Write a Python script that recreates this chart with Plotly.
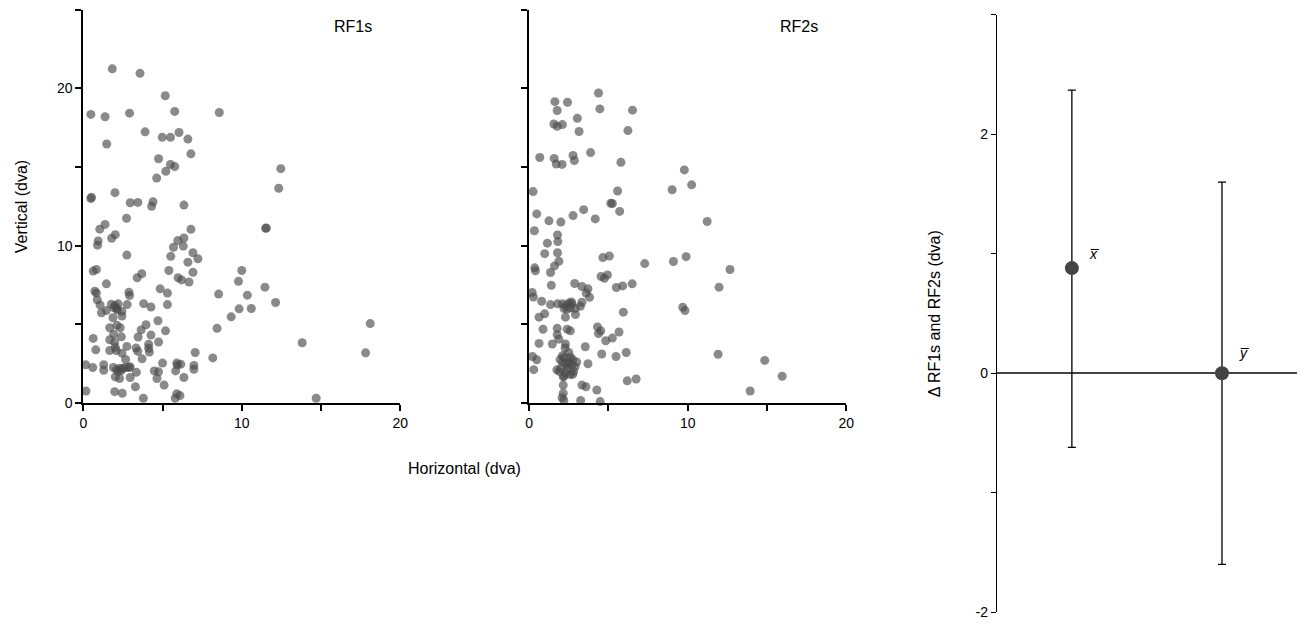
import plotly.graph_objects as go

# ---------------- data ----------------
rf1_x = [1.83, 3.58, 5.17, 0.48, 1.375, 2.92, 5.77, 8.58, 3.9, 4.98, 5.5, 6.04, 6.6, 1.48, 6.79, 4.75, 5.5, 5.77,
         5.21, 4.63, 0.48, 0.52, 2.0, 2.96, 3.44, 4.4, 4.31, 6.35, 2.73, 1.375, 1.04, 6.79, 2.02,
         1.79, 0.94, 0.9, 6.35, 5.96, 6.31, 5.69, 2.75, 5.52, 6.92, 7.23, 6.6, 0.625, 0.83, 5.4, 6.92, 3.69, 3.4,
         5.98, 6.2, 6.67, 1.46, 10.0, 9.79, 10.35, 8.54, 9.83, 10.6, 9.33, 8.44, 8.17, 4.85, 5.31, 5.31, 0.73,
         0.83, 0.88, 1.06, 2.88, 2.92, 2.77, 3.81, 4.27,
         2.0, 2.1, 2.2, 1.95, 2.15,
         1.77, 1.46, 1.15, 2.44, 2.44, 1.875, 4.71, 3.96, 3.65, 5.19, 1.67, 2.125, 2.33, 1.92, 2.4, 0.625, 1.67,
         4.27, 3.46, 4.75, 1.98, 2.02, 2.75, 3.33, 4.125, 4.125, 0.79, 1.67, 2.08, 3.44, 4.17, 2.44, 7.06, 2.67,
         3.71, 5.0, 5.9, 6.15, 5.94, 6.98, 6.98, 0.15, 0.6, 1.29, 1.29,
         1.9, 2.1, 2.3, 2.5, 2.7, 2.9, 2.2, 2.4,
         2.96, 3.35, 4.48, 4.75, 4.65, 5.83, 6.35, 2.02, 2.29, 2.96, 5.1, 3.29, 0.17, 1.98, 2.46, 3.79, 5.9, 6.1, 5.8,
         12.46, 12.33, 11.5, 11.55, 11.46, 12.13, 18.1, 13.81, 17.81, 14.69]
rf1_y = [21.25, 20.96, 19.54, 18.35, 18.2, 18.43, 18.54, 18.47, 17.24, 16.89, 16.89, 17.2, 16.78, 16.47, 15.84, 15.53, 15.17, 15.03,
         14.73, 14.3, 13.0, 13.08, 13.37, 12.73, 12.75, 12.79, 12.5, 12.58, 11.74, 11.35, 11.05, 11.04, 10.7,
         10.47, 10.3, 10.03, 10.49, 10.32, 9.97, 9.9, 9.4, 9.32, 9.55, 9.17, 8.95, 8.38, 8.48, 8.42, 8.3, 8.21, 7.96,
         7.96, 7.82, 7.69, 7.57, 8.42, 7.73, 6.85, 6.92, 5.98, 6.0, 5.47, 4.74, 2.86, 7.25, 6.98, 6.25, 7.1,
         6.98, 6.56, 6.23, 7.04, 6.83, 6.25, 6.31, 6.1,
         6.2, 6.0, 6.3, 6.05, 5.9,
         6.27, 5.87, 5.73, 5.83, 5.52, 5.41, 5.22, 4.97, 4.64, 4.58, 4.78, 4.93, 4.78, 4.37, 4.2, 4.1, 4.01,
         4.31, 4.19, 3.87, 3.85, 3.53, 3.59, 3.49, 3.73, 3.47, 3.37, 3.33, 3.33, 3.27, 3.23, 3.16, 3.2, 2.76,
         2.8, 2.53, 2.53, 2.46, 2.4, 2.38, 2.13, 2.42, 2.24, 2.42, 2.07,
         2.25, 2.1, 2.2, 2.2, 2.25, 2.25, 2.0, 2.05,
         2.29, 1.94, 2.03, 1.97, 1.55, 2.03, 1.61, 1.65, 1.55, 1.61, 1.13, 1.02, 0.75, 0.71, 0.61, 0.29, 0.57, 0.46, 0.29,
         14.9, 13.65, 11.1, 11.12, 7.36, 6.38, 5.04, 3.82, 3.18, 0.29]

rf2_x = [4.375, 1.625, 2.42, 1.77, 4.46, 6.52, 3.04, 1.56, 1.77, 2.1, 3.15, 6.23, 0.67, 1.58, 1.71, 2.08, 2.77, 2.85,
         3.875, 5.79, 9.79, 10.25, 9.02, 0.25, 5.58, 5.15, 5.25, 5.71, 3.44, 2.77, 4.17, 0.48, 1.25, 2.0, 0.33, 1.79,
         11.23, 12.67, 11.98, 11.92, 14.86, 15.96, 13.94,
         1.81, 1.15, 0.98, 1.79, 1.875, 1.6, 0.35, 0.4, 1.35, 1.4, 4.65, 5.06, 7.29, 9.1, 9.9, 4.54, 4.75, 4.94,
         5.5, 5.9, 6.5, 2.875, 3.33, 3.71, 3.6, 3.81, 0.19, 0.27, 0.79, 1.35, 1.79,
         2.1, 2.3, 2.5, 2.7, 2.2, 2.4, 2.6, 2.9,
         2.67, 3.33, 3.23, 2.92, 0.98, 0.625, 2.29, 5.94, 9.69, 9.83, 0.875, 1.77, 2.4, 2.6, 1.77, 1.875, 4.31,
         4.52, 4.375, 5.67, 5.25, 4.83, 0.625, 1.46, 2.29, 2.27, 3.54, 0.21, 0.48, 0.29, 4.58, 5.48, 6.125, 3.71,
         2.3, 2.1, 2.5, 2.0, 2.4, 2.7, 2.9, 2.2, 2.6, 1.9, 2.3, 2.6, 2.8, 2.1, 2.5, 2.75, 2.45, 2.2, 3.0, 1.95,
         1.75, 2.75, 2.15, 2.15, 2.15, 2.08, 2.19, 3.33, 3.58, 4.27, 6.19, 6.75, 3.25, 4.48]
rf2_y = [19.71, 19.16, 19.12, 18.6, 18.7, 18.62, 18.1, 17.74, 17.6, 17.7, 17.26, 17.32, 15.61, 15.55, 15.19, 15.17, 15.74, 15.42,
         15.92, 15.3, 14.82, 13.87, 13.56, 13.44, 13.48, 12.7, 12.68, 12.18, 12.29, 11.91, 11.7, 12.02, 11.58, 11.5, 10.95, 10.68,
         11.54, 8.48, 7.36, 3.09, 2.7, 1.69, 0.75,
         10.26, 10.16, 9.49, 9.55, 9.01, 8.71, 8.59, 8.4, 8.29, 7.48, 9.24, 9.34, 8.86, 8.99, 9.3, 8.04, 7.92, 8.14,
         7.34, 7.44, 7.57, 7.59, 7.4, 7.25, 6.98, 6.71, 7.02, 6.73, 6.46, 6.25, 6.3,
         6.3, 6.2, 6.35, 6.3, 6.0, 5.95, 6.05, 6.0,
         6.42, 6.4, 6.14, 5.62, 5.66, 5.45, 5.45, 5.77, 6.08, 5.87, 4.68, 4.74, 4.68, 4.58, 4.33, 4.05, 4.83,
         4.58, 4.41, 4.51, 4.12, 3.95, 3.78, 3.74, 3.74, 3.49, 3.57, 2.95, 2.74, 2.11, 3.11, 2.95, 3.2, 2.49,
         2.5, 2.6, 2.6, 2.2, 2.2, 2.4, 2.3, 2.9, 2.9, 2.0, 1.9, 1.8, 2.0, 3.0, 3.2, 2.75, 2.4, 1.7, 2.6, 2.75,
         2.1, 1.82, 1.65, 1.13, 0.61, 0.33, 0.15, 1.13, 1.02, 0.82, 1.4, 1.52, 0.15, 0.08]

delta_labels = ["x\u0305", "y\u0305"]
delta_mean = [0.88, 0.0]
delta_err_plus = [1.49, 1.60]
delta_err_minus = [1.50, 1.60]

panel_titles = ["RF1s", "RF2s"]
xtick_vals = [0, 5, 10, 15, 20]
xtick_text = ["0", "", "10", "", "20"]
ytick_vals = [0, 5, 10, 15, 20, 25]
ytick_text = ["0", "", "10", "", "20", ""]
dtick_vals = [-2, -1, 0, 1, 2, 3]
dtick_text = ["-2", "", "0", "", "2", ""]

# ---------------- figure ----------------
W, H = 1309, 632
FONT = "Liberation Sans, Arial, Helvetica, sans-serif"
dot = dict(size=9, color="rgb(75,75,75)", opacity=0.65, line=dict(width=0))

fig = go.Figure()
fig.add_trace(go.Scatter(x=rf1_x, y=rf1_y, mode="markers", marker=dot, xaxis="x", yaxis="y",
                         cliponaxis=False, showlegend=False))
fig.add_trace(go.Scatter(x=rf2_x, y=rf2_y, mode="markers", marker=dot, xaxis="x2", yaxis="y2",
                         cliponaxis=False, showlegend=False))
fig.add_trace(go.Scatter(x=delta_labels, y=delta_mean, mode="markers", xaxis="x3", yaxis="y3",
                         marker=dict(size=14, color="#444444"),
                         error_y=dict(type="data", array=delta_err_plus, arrayminus=delta_err_minus,
                                      color="black", thickness=1.3, width=4),
                         cliponaxis=False, showlegend=False))

def px_x(p):
    return min(p / W, 1.0)

def px_y(p):
    return max(1 - p / H, 0.0)

scat_x = dict(range=[0, 20], tickmode="array", tickvals=xtick_vals, ticktext=xtick_text,
              showline=True, linecolor="black", linewidth=2, ticks="outside", ticklen=6,
              tickwidth=2, tickcolor="black", showgrid=False, zeroline=False,
              tickfont=dict(size=14, color="black", family=FONT))
scat_y = dict(range=[0, 25], tickmode="array", tickvals=ytick_vals,
              showline=True, linecolor="black", linewidth=2, ticks="outside", ticklen=6,
              tickwidth=2, tickcolor="black", showgrid=False, zeroline=False,
              tickfont=dict(size=14, color="black", family=FONT))

fig.update_layout(
    width=W, height=H,
    margin=dict(l=0, r=0, t=0, b=0),
    paper_bgcolor="white", plot_bgcolor="white",
    font=dict(family=FONT, color="black", size=14),
    xaxis=dict(scat_x, domain=[px_x(80), px_x(400)], anchor="y"),
    yaxis=dict(scat_y, domain=[px_y(408), px_y(10)], anchor="x", ticktext=ytick_text),
    xaxis2=dict(scat_x, domain=[px_x(530), px_x(850)], anchor="y2"),
    yaxis2=dict(scat_y, domain=[px_y(408), px_y(10)], anchor="x2", ticktext=[""] * len(ytick_vals)),
    xaxis3=dict(domain=[px_x(1002), px_x(1305)], anchor="y3", range=[-0.5, 1.5],
                visible=False, showgrid=False, zeroline=False),
    yaxis3=dict(domain=[px_y(620), px_y(15)], anchor="x3", range=[-2, 3],
                tickmode="array", tickvals=dtick_vals, ticktext=dtick_text,
                showline=True, linecolor="black", linewidth=1, ticks="outside", ticklen=5,
                tickwidth=1, tickcolor="black", showgrid=False,
                zeroline=True, zerolinecolor="#444444", zerolinewidth=1.5,
                tickfont=dict(size=14, color="black", family=FONT)),
)

def ann(text, x, y, **kw):
    d = dict(text=text, x=px_x(x), y=px_y(y), xref="paper", yref="paper",
             xanchor="center", yanchor="middle", showarrow=False, font=dict(size=16))
    d.update(kw)
    return d

annotations = [
    ann(panel_titles[0], 352, 27),
    ann(panel_titles[1], 802, 27),
    ann("Vertical (dva)", 18, 209, textangle=-90),
    ann("Horizontal (dva)", 465, 474),
    ann("\u0394 RF1s and RF2s (dva)", 940, 318, textangle=-90),
]
for lab, m, dy in zip(delta_labels, delta_mean, [14, 20]):
    annotations.append(dict(text="<i>" + lab + "</i>", x=lab, y=m, xref="x3", yref="y3",
                            xanchor="center", yanchor="middle",
                            xshift=23, yshift=dy, showarrow=False, font=dict(size=14)))
fig.update_layout(annotations=annotations)

# make the page exactly the size of the figure (no default body margin)
fig.write_html("out.html",
               post_script="document.body.style.margin='0';document.body.style.overflow='hidden';")
